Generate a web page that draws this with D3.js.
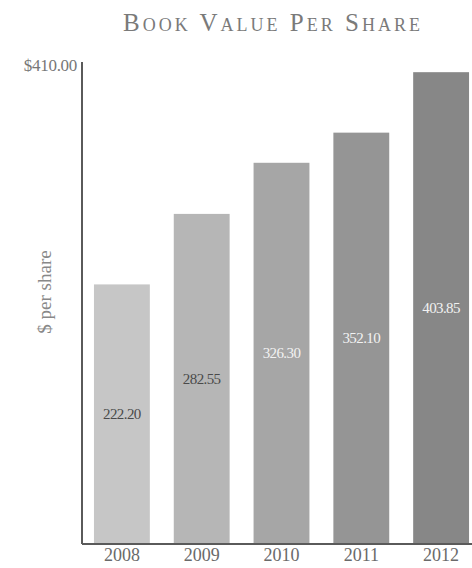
<!DOCTYPE html>
<html>
<head>
<meta charset="utf-8">
<script src="https://cdn.jsdelivr.net/npm/d3@7"></script>
<style>
  html, body { margin: 0; padding: 0; background: #fff; }
  svg { display: block; }
  text { font-family: "Liberation Serif", "DejaVu Serif", serif; }
</style>
</head>
<body>
<svg id="chart" width="472" height="568"></svg>
<script>
// Book value per share, by fiscal year
const years = ["2008", "2009", "2010", "2011", "2012"];
const bookValues = [222.20, 282.55, 326.30, 352.10, 403.85];
const barColors = ["#c6c6c6", "#b6b6b6", "#a6a6a6", "#959595", "#878787"];
const labelColors = ["#4a4a4a", "#4a4a4a", "#f2f2f2", "#f2f2f2", "#f2f2f2"];
const yTicks = [410];
const yMax = 410;

const svg = d3.select("#chart");
const W = 472, H = 568;
const m = { left: 82, right: 0, top: 65, bottom: 24 };

const x = d3.scaleBand()
  .domain(years)
  .range([m.left, W + 9])
  .paddingInner(0.3)
  .paddingOuter(0.15);

const y = d3.scaleLinear()
  .domain([0, yMax])
  .range([H - m.bottom, m.top]);

const data = years.map((yr, i) => ({ year: yr, value: bookValues[i], color: barColors[i], label: labelColors[i] }));

// Title
svg.append("text")
  .attr("x", 273)
  .attr("y", 31)
  .attr("text-anchor", "middle")
  .style("font-size", "25px")
  .style("font-variant", "small-caps")
  .style("letter-spacing", "3px")
  .attr("fill", "#7a7a7a")
  .text("Book Value Per Share");

// Bars
svg.append("g")
  .selectAll("rect")
  .data(data)
  .join("rect")
  .attr("x", d => x(d.year))
  .attr("y", d => y(d.value))
  .attr("width", x.bandwidth())
  .attr("height", d => y(0) - y(d.value))
  .attr("fill", d => d.color);

// Value labels at bar mid-height
svg.append("g")
  .selectAll("text")
  .data(data)
  .join("text")
  .attr("x", d => x(d.year) + x.bandwidth() / 2)
  .attr("y", d => (y(0) + y(d.value)) / 2 + 5)
  .attr("text-anchor", "middle")
  .style("font-size", "15px")
  .style("letter-spacing", "-0.6px")
  .attr("fill", d => d.label)
  .text(d => d3.format(".2f")(d.value));

// Y axis: single top tick label, no tick marks
const yAxis = d3.axisLeft(y)
  .tickValues(yTicks)
  .tickSize(0)
  .tickPadding(5)
  .tickFormat(d => "$" + d3.format(".2f")(d));
const gy = svg.append("g")
  .attr("transform", `translate(${m.left},0)`)
  .call(yAxis);
gy.select(".domain").attr("stroke", "#5a5a5a").attr("stroke-width", 2)
  .attr("d", `M0,${y(yMax) - 3}V${y(0)}`);
gy.selectAll(".tick text")
  .style("font-family", "'Liberation Serif', serif")
  .style("font-size", "17px")
  .style("letter-spacing", "-0.3px")
  .attr("fill", "#777");

// X axis: baseline with year labels
const xAxis = d3.axisBottom(x).tickSize(0).tickPadding(4);
const gx = svg.append("g")
  .attr("transform", `translate(0,${y(0)})`)
  .call(xAxis);
gx.select(".domain").attr("stroke", "#5a5a5a").attr("stroke-width", 2)
  .attr("d", `M${m.left},0H${W}`);
gx.selectAll(".tick text")
  .style("font-family", "'Liberation Serif', serif")
  .style("font-size", "18px")
  .attr("fill", "#6a6a6a");

// Y axis title
svg.append("text")
  .attr("transform", `translate(51,292) rotate(-90)`)
  .attr("text-anchor", "middle")
  .style("font-size", "19px")
  .attr("fill", "#888")
  .text("$ per share");
</script>
</body>
</html>
